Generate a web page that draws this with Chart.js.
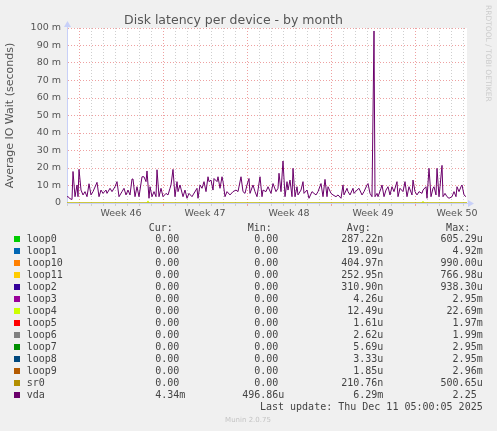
<!DOCTYPE html>
<html>
<head>
<meta charset="utf-8">
<title>Disk latency per device - by month</title>
<script src="https://cdn.jsdelivr.net/npm/chart.js@4.4.1/dist/chart.umd.min.js"></script>
<style>
  html, body { margin: 0; padding: 0; background: #f0f0f0; }
  canvas { display: block; }
</style>
</head>
<body>
<canvas id="myChart" width="497" height="431"></canvas>
<script>
// vda samples: hours since the left edge of the graph, value in milliseconds
var vdaHours = [
  0, 2, 6, 10, 12, 16, 20, 22, 24, 28,
  32, 36, 40, 44, 48, 52, 60, 64, 68, 72,
  78, 80, 86, 90, 96, 100, 104, 110, 114, 118,
  122, 126, 130, 132, 136, 140, 144, 150, 154, 158,
  160, 164, 166, 170, 174, 178, 180, 184, 188, 192,
  198, 202, 206, 208, 212, 216, 220, 222, 226, 232,
  236, 240, 244, 250, 252, 260, 262, 266, 270, 274,
  278, 282, 284, 288, 292, 294, 300, 302, 306, 310,
  312, 316, 320, 326, 332, 338, 342, 348, 352, 356,
  360, 364, 366, 372, 376, 380, 386, 390, 392, 398,
  402, 408, 412, 418, 422, 424, 428, 432, 436, 440,
  442, 446, 450, 452, 456, 460, 462, 468, 472, 474,
  480, 484, 490, 494, 498, 502, 508, 512, 516, 520,
  522, 528, 532, 538, 542, 548, 552, 554, 560, 562,
  566, 572, 574, 580, 584, 590, 594, 600, 602, 606,
  610, 614, 616, 620, 622, 628, 630, 634, 638, 642,
  646, 650, 654, 660, 662, 666, 672, 676, 680, 684,
  690, 692, 696, 700, 704, 710, 712, 718, 720, 724,
  728, 732, 734, 738, 740, 744, 746, 750, 752, 756,
  760, 764, 770, 774, 778, 780, 784, 788, 790, 794,
  798
];
var vdaValues = [
  3.6, 3.6, 2.5, 2.0, 18.0, 3.6, 10.3, 3.6, 19.2, 7.4,
  4.6, 6.5, 3.6, 11.0, 4.6, 6.5, 11.8, 3.6, 7.4, 5.5,
  7.4, 5.5, 8.4, 6.5, 9.3, 12.2, 3.6, 6.5, 8.4, 4.6,
  7.4, 4.6, 13.7, 13.7, 3.6, 9.3, 3.6, 15.0, 15.0, 12.2,
  18.3, 2.7, 9.3, 3.6, 6.5, 3.6, 19.0, 3.6, 8.4, 3.6,
  5.5, 4.6, 8.4, 10.3, 19.2, 3.6, 12.2, 6.5, 10.3, 3.6,
  7.4, 2.7, 5.5, 3.6, 4.6, 8.4, 2.7, 10.3, 8.4, 12.2,
  6.5, 15.0, 12.2, 13.1, 7.4, 14.0, 12.2, 15.0, 8.4, 15.0,
  12.2, 3.6, 6.5, 4.6, 6.5, 7.4, 6.5, 15.0, 6.5, 5.5,
  10.3, 14.0, 5.5, 10.3, 6.5, 3.6, 15.0, 3.6, 7.4, 6.5,
  9.3, 5.5, 11.1, 6.5, 8.4, 17.0, 6.5, 24.0, 3.6, 12.2,
  7.4, 13.1, 3.6, 19.8, 3.6, 9.3, 4.6, 7.4, 12.2, 5.5,
  7.4, 2.7, 6.5, 5.5, 4.6, 6.5, 11.1, 3.6, 13.5, 3.6,
  9.3, 5.5, 4.6, 3.6, 4.6, 2.7, 10.3, 4.6, 8.4, 6.5,
  4.6, 8.4, 5.5, 7.4, 8.4, 4.6, 6.5, 10.3, 11.1, 5.5,
  3.6, 98.3, 3.6, 5.5, 3.6, 8.4, 10.3, 3.6, 7.4, 9.3,
  4.6, 9.3, 6.5, 12.2, 3.6, 8.4, 6.5, 12.2, 3.6, 9.3,
  4.6, 13.1, 6.5, 4.6, 6.5, 5.5, 7.4, 9.3, 2.7, 19.8,
  3.6, 8.4, 9.3, 4.6, 19.8, 3.6, 9.3, 21.5, 3.6, 5.5,
  3.6, 2.7, 3.6, 6.5, 3.6, 9.3, 6.5, 9.3, 10.3, 4.6,
  3.6
];
// the other devices sit on zero, loop4 has two tiny blips
var loop4Hours = [0, 160, 162, 164, 710, 712, 714, 800];
var loop4Values = [0, 0, 1.2, 0, 0, 1.0, 0, 0];
var sr0Hours = [0, 800];
var sr0Values = [0, 0];

var weekLabels = ['Week 46', 'Week 47', 'Week 48', 'Week 49', 'Week 50'];
var weekLabelHours = [108, 276, 444, 612, 780];
var weekStartHours = [24, 192, 360, 528, 696];

var legendNames = ['loop0', 'loop1', 'loop10', 'loop11', 'loop2', 'loop3', 'loop4',
  'loop5', 'loop6', 'loop7', 'loop8', 'loop9', 'sr0', 'vda'];
var legendColors = ['#00CC00', '#0066B3', '#FF8000', '#FFCC00', '#330099', '#990099', '#CCFF00',
  '#FF0000', '#808080', '#008F00', '#00487D', '#B35A00', '#B38F00', '#6B006B'];
var curValues = ['0.00', '0.00', '0.00', '0.00', '0.00', '0.00', '0.00',
  '0.00', '0.00', '0.00', '0.00', '0.00', '0.00', '4.34m'];
var minValues = ['0.00', '0.00', '0.00', '0.00', '0.00', '0.00', '0.00',
  '0.00', '0.00', '0.00', '0.00', '0.00', '0.00', '496.86u'];
var avgValues = ['287.22n', '19.09u', '404.97n', '252.95n', '310.90n', '4.26u', '12.49u',
  '1.61u', '2.62u', '5.69u', '3.33u', '1.85u', '210.76n', '6.29m'];
var maxValues = ['605.29u', '4.92m', '990.00u', '766.98u', '938.30u', '2.95m', '22.69m',
  '1.97m', '1.99m', '2.95m', '2.95m', '2.96m', '500.65u', '2.25'];
var columnHeaders = ['Cur:', 'Min:', 'Avg:', 'Max:'];
var lastUpdate = 'Last update: Thu Dec 11 05:00:05 2025';

var MAJOR = '#eea0a0';
var MINOR = '#cfcfcf';
var AXIS = '#c8d0f8';

function toPoints(hours, values) {
  return hours.map(function (h, i) { return { x: h, y: values[i] }; });
}

// white plot background
var plotBackground = {
  id: 'plotBackground',
  beforeDraw: function (chart) {
    var a = chart.chartArea, ctx = chart.ctx;
    ctx.save();
    ctx.fillStyle = '#ffffff';
    ctx.fillRect(a.left, a.top, a.right - a.left, a.bottom - a.top);
    ctx.restore();
  }
};

// rrdtool style axis arrows, legend table and small texts
var muninExtras = {
  id: 'muninExtras',
  afterDraw: function (chart) {
    var a = chart.chartArea, ctx = chart.ctx;
    ctx.save();
    ctx.strokeStyle = AXIS;
    ctx.fillStyle = AXIS;
    ctx.lineWidth = 1;
    ctx.beginPath();
    ctx.moveTo(a.left + 0.5, a.top);
    ctx.lineTo(a.left + 0.5, a.top - 5);
    ctx.moveTo(a.right, a.bottom + 0.5);
    ctx.lineTo(a.right + 2, a.bottom + 0.5);
    ctx.stroke();
    ctx.beginPath();
    ctx.moveTo(a.left - 3, a.top - 1);
    ctx.lineTo(a.left + 4, a.top - 1);
    ctx.lineTo(a.left + 0.5, a.top - 7);
    ctx.closePath();
    ctx.fill();
    ctx.beginPath();
    ctx.moveTo(a.right + 1, a.bottom - 3);
    ctx.lineTo(a.right + 1, a.bottom + 4);
    ctx.lineTo(a.right + 7, a.bottom + 0.5);
    ctx.closePath();
    ctx.fill();

    // legend table
    var colEnds = [185.3, 284.3, 383.3, 482.7];
    var rowTop = 239, rowStep = 12;
    ctx.font = '10px "DejaVu Sans Mono"';
    ctx.textBaseline = 'middle';
    ctx.fillStyle = '#444444';
    ctx.textAlign = 'right';
    columnHeaders.forEach(function (h, i) {
      ctx.fillText(h, colEnds[i] - 12.5, 228.3);
    });
    var pad = function (v) { return /[0-9]$/.test(v) ? v + ' ' : v; };
    legendNames.forEach(function (name, i) {
      var y = rowTop + i * rowStep;
      ctx.fillStyle = legendColors[i];
      ctx.fillRect(14, y - 3, 6, 6);
      ctx.fillStyle = '#444444';
      ctx.textAlign = 'left';
      ctx.fillText(name, 26.7, y);
      ctx.textAlign = 'right';
      [curValues, minValues, avgValues, maxValues].forEach(function (col, c) {
        ctx.fillText(pad(col[i]), colEnds[c], y);
      });
    });
    ctx.fillText(lastUpdate, 482.7, rowTop + legendNames.length * rowStep);

    ctx.font = '7px "DejaVu Sans"';
    ctx.fillStyle = '#c4c4c4';
    ctx.textAlign = 'center';
    ctx.fillText('Munin 2.0.75', 248, 420);

    ctx.font = '7.5px "DejaVu Sans"';
    ctx.fillStyle = '#cccccc';
    ctx.textAlign = 'left';
    ctx.translate(488, 5);
    ctx.rotate(Math.PI / 2);
    ctx.fillText('RRDTOOL / TOBI OETIKER', 0, 0);
    ctx.restore();
  }
};

var ctx = document.getElementById('myChart').getContext('2d');
var chart = new Chart(ctx, {
  type: 'line',
  data: {
    datasets: [{
      label: 'vda',
      data: toPoints(vdaHours, vdaValues),
      borderColor: '#6B006B',
      order: 0
    }, {
      label: 'sr0',
      data: toPoints(sr0Hours, sr0Values),
      borderColor: '#B38F00',
      order: 1
    }, {
      label: 'loop4',
      data: toPoints(loop4Hours, loop4Values),
      borderColor: '#CCFF00',
      order: 2
    }]
  },
  options: {
    responsive: false,
    animation: false,
    devicePixelRatio: 1,
    layout: { padding: { left: 0, right: 30, top: 0, bottom: 0 } },
    elements: {
      line: { borderWidth: 1, tension: 0 },
      point: { radius: 0 }
    },
    plugins: {
      legend: { display: false },
      tooltip: { enabled: false },
      title: {
        display: true,
        text: 'Disk latency per device - by month',
        color: '#555555',
        font: { family: 'DejaVu Sans', size: 12.5, weight: 'normal' },
        padding: { top: 13, bottom: 0 }
      }
    },
    scales: {
      x: {
        type: 'linear',
        min: 0,
        max: 800,
        afterFit: function (s) { s.height = 228; },
        afterBuildTicks: function (s) {
          var ticks = [];
          for (var h = 0; h <= 792; h += 24) ticks.push({ value: h });
          weekLabelHours.forEach(function (h) { ticks.push({ value: h }); });
          ticks.sort(function (p, q) { return p.value - q.value; });
          s.ticks = ticks;
        },
        grid: {
          color: function (c) {
            if (!c.tick) return MINOR;
            var v = c.tick.value;
            if (v % 24 !== 0) return 'rgba(0,0,0,0)';
            return weekStartHours.indexOf(v) >= 0 ? MAJOR : MINOR;
          },
          lineWidth: 1,
          drawTicks: true,
          tickLength: 3,
          tickBorderDash: []
        },
        border: { display: true, color: AXIS, width: 1, dash: [1, 2] },
        ticks: {
          autoSkip: false,
          maxRotation: 0,
          padding: 2,
          color: '#555555',
          font: { family: 'DejaVu Sans', size: 9.5 },
          callback: function (value) {
            var i = weekLabelHours.indexOf(value);
            return i >= 0 ? weekLabels[i] : '';
          }
        }
      },
      y: {
        min: 0,
        max: 100,
        afterFit: function (s) { s.width = 67; },
        grid: {
          color: function (c) {
            if (!c.tick) return MINOR;
            return c.tick.value % 10 === 0 ? MAJOR : MINOR;
          },
          lineWidth: 1,
          drawTicks: false
        },
        border: { display: true, color: AXIS, width: 1, dash: [1, 2] },
        ticks: {
          stepSize: 5,
          padding: 6,
          color: '#555555',
          font: { family: 'DejaVu Sans', size: 9.5 },
          callback: function (value) {
            if (value % 10 !== 0) return '';
            return value === 0 ? '0' : value + ' m';
          }
        },
        title: {
          display: true,
          text: 'Average IO Wait (seconds)',
          color: '#555555',
          font: { family: 'DejaVu Sans', size: 11 },
          padding: { top: 4, bottom: 0 }
        }
      }
    }
  },
  plugins: [plotBackground, muninExtras]
});
</script>
</body>
</html>
